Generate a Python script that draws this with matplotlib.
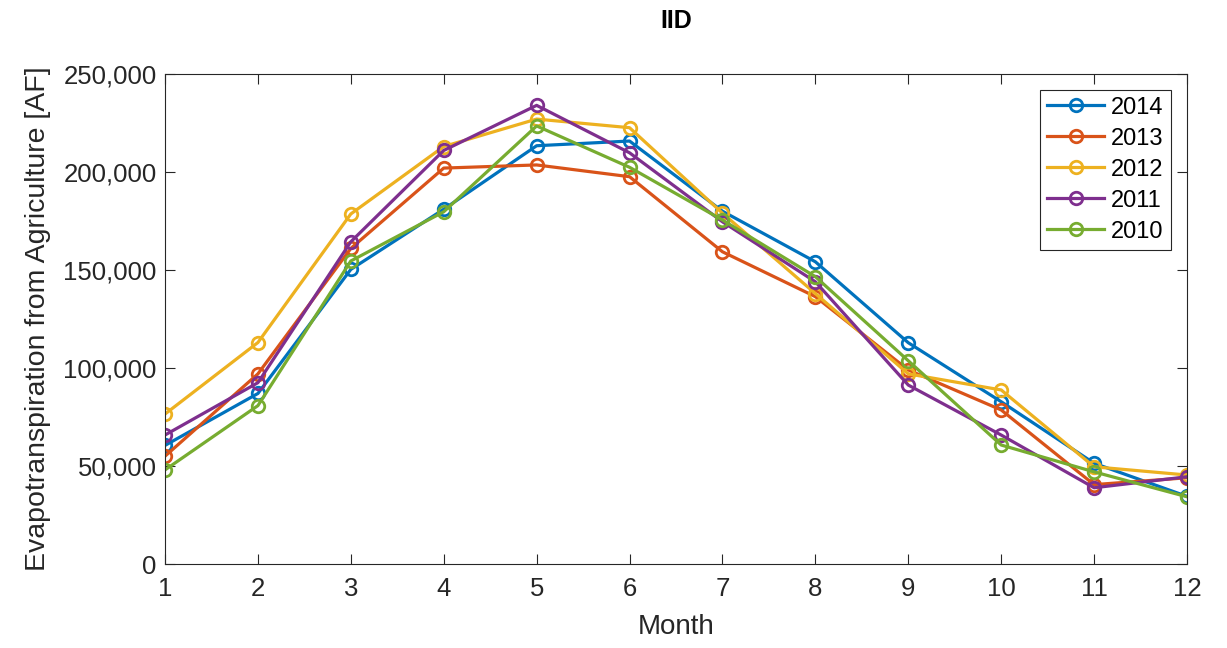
import matplotlib
matplotlib.use("Agg")
import matplotlib.pyplot as plt
from matplotlib.ticker import FuncFormatter

plt.rcParams["font.family"] = ["Liberation Sans", "DejaVu Sans"]

months = list(range(1, 13))
years = ["2014", "2013", "2012", "2011", "2010"]
et_2014 = [60500, 87000, 150300, 181000, 213400, 215800, 180000, 154200, 112900, 82800, 51400, 34500]
et_2013 = [55000, 97000, 161000, 202000, 203600, 197600, 159300, 136400, 99000, 78600, 40500, 44000]
et_2012 = [76500, 113000, 178600, 213000, 227000, 222600, 179000, 138000, 97000, 88800, 49600, 45400]
et_2011 = [65800, 92500, 164400, 211000, 234000, 209800, 174600, 144000, 91300, 65800, 38900, 44500]
et_2010 = [48000, 80800, 154600, 179700, 223500, 202400, 175500, 146600, 103700, 60700, 47000, 34300]
series = [et_2014, et_2013, et_2012, et_2011, et_2010]
colors = ["#0072BD", "#D95319", "#EDB120", "#7E2F8E", "#77AC30"]

fig = plt.figure(figsize=(12.27, 6.48), dpi=100)
ax = fig.add_axes([165 / 1227, 1 - 564 / 648, (1187 - 165) / 1227, (564 - 74) / 648])

for yr, vals, c in zip(years, series, colors):
    ax.plot(months, vals, "-o", color=c, linewidth=2.3, markersize=9,
            markerfacecolor="none", markeredgewidth=2.0, label=yr)

ax.set_xlim(1, 12)
ax.set_ylim(0, 250000)
ax.set_xticks(months)
ax.set_yticks(range(0, 250001, 50000))
ax.yaxis.set_major_formatter(FuncFormatter(lambda v, p: f"{int(v):,}"))
ax.tick_params(direction="in", top=True, right=True, labelsize=18.5,
               colors="#262626", length=7, width=0.8)
ax.tick_params(axis="x", pad=9)
ax.tick_params(axis="y", pad=6)
for s in ax.spines.values():
    s.set_color("#262626")
    s.set_linewidth(0.8)

ax.set_xlabel("Month", fontsize=20, color="#262626", labelpad=10)
ax.set_ylabel("Evapotranspiration from Agriculture [AF]", fontsize=20.5,
              color="#262626", labelpad=9)
ax.set_title("IID", fontsize=18, fontweight="bold", pad=33)

leg = ax.legend(loc="upper right", fontsize=17, fancybox=False, framealpha=1,
                edgecolor="#262626", handlelength=2.4, borderpad=0.3,
                labelspacing=0.38, handletextpad=0.3, borderaxespad=0,
                bbox_to_anchor=(0.984, 0.968))
leg.get_frame().set_linewidth(0.8)

fig.savefig("out.png", dpi=100)
